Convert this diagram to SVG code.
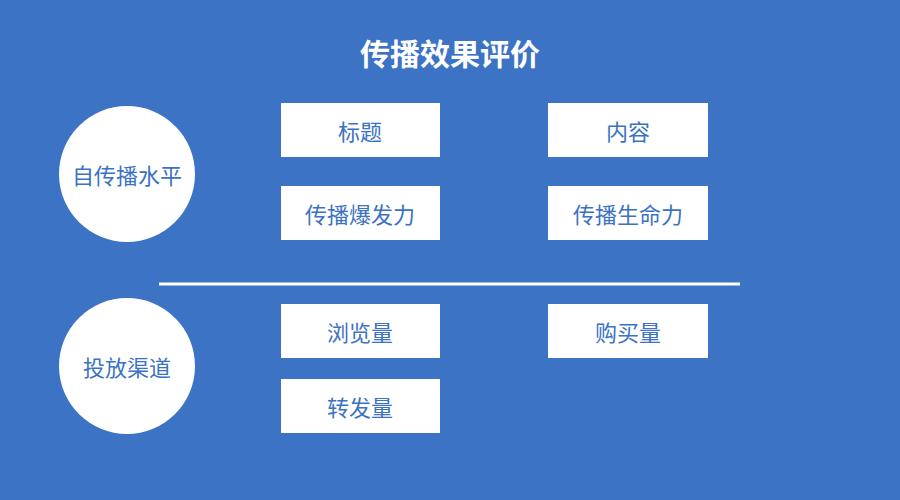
<svg xmlns="http://www.w3.org/2000/svg" width="900" height="500" viewBox="0 0 900 500">
<style>
text{font-family:"Noto Sans CJK SC","Noto Sans",sans-serif;text-anchor:middle;dominant-baseline:central}
.b{fill:#fff}
.t{fill:#3b72c3;font-size:22px}
</style>
<rect width="900" height="500" fill="#3d73c4"/>
<text x="450" y="52" fill="#fff" font-size="30" font-weight="bold">传播效果评价</text>
<g id="c1"><circle cx="127" cy="174" r="68" class="b"/><text x="127" y="174" class="t">自传播水平</text></g>
<g id="c2"><circle cx="127" cy="366" r="68" class="b"/><text x="127" y="366" class="t">投放渠道</text></g>
<g id="n1"><rect x="281" y="103" width="159" height="54" class="b"/><text x="360" y="130" class="t">标题</text></g>
<g id="n2"><rect x="548" y="103" width="160" height="54" class="b"/><text x="628" y="130" class="t">内容</text></g>
<g id="n3"><rect x="281" y="186" width="159" height="54" class="b"/><text x="360" y="213" class="t">传播爆发力</text></g>
<g id="n4"><rect x="548" y="186" width="160" height="54" class="b"/><text x="628" y="213" class="t">传播生命力</text></g>
<g id="n5"><rect x="281" y="304" width="159" height="54" class="b"/><text x="360" y="331" class="t">浏览量</text></g>
<g id="n6"><rect x="548" y="304" width="160" height="54" class="b"/><text x="628" y="331" class="t">购买量</text></g>
<g id="n7"><rect x="281" y="379" width="159" height="54" class="b"/><text x="360" y="406" class="t">转发量</text></g>
<g id="connectors"><line x1="159" y1="284" x2="740" y2="284" stroke="#fff" stroke-width="3"/></g>
</svg>
